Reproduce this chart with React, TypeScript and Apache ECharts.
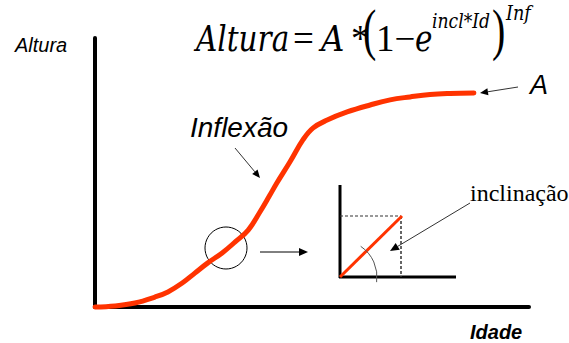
import { useEffect, useRef } from "react";
import * as echarts from "echarts";

// Curve (arbitrary units, 0..100 on both axes)
const idade = [0, 4.6, 9.2, 13.8, 16.8, 20.1, 23.0, 26.0, 29.3, 32.3, 35.3, 38.0, 40.3, 41.9, 44.9, 47.9, 50.2, 53.5, 58.1, 63.4, 68.0, 72.6, 77.2, 81.8, 87.3];
const altura = [0, 0.4, 1.5, 3.7, 5.6, 8.9, 12.6, 16.4, 20.1, 24.2, 28.6, 35.3, 41.6, 46.1, 53.9, 62.1, 66.5, 69.5, 72.5, 75.1, 77.0, 78.1, 79.0, 79.4, 79.6];

const yTitle = "Altura";
const xTitle = "Idade";
const inflexLabel = "Inflexão";
const asymLabel = "A";
const slopeLabel = "inclinação";

const RED = "#ff3300";
const SERIF = "Liberation Serif";
const SERIF_IT = "DejaVu Serif";
const SANS = "Liberation Sans";

function arrow(x1: number, y1: number, x2: number, y2: number, len = 8, half = 3.5, width = 1, color = "#000") {
  const dx = x2 - x1, dy = y2 - y1, L = Math.hypot(dx, dy);
  const ux = dx / L, uy = dy / L;
  const bx = x2 - ux * len, by = y2 - uy * len;
  const px = -uy * half, py = ux * half;
  return [
    { type: "line", shape: { x1, y1, x2: bx, y2: by }, style: { stroke: color, lineWidth: width } },
    { type: "polygon", shape: { points: [[x2, y2], [bx + px, by + py], [bx - px, by - py]] }, style: { fill: "#000" } },
  ];
}

function txt(text: string, x: number, y: number, size: number, family: string, fstyle = "normal", fweight = "normal", el: any = {}) {
  return {
    type: "text",
    x,
    y,
    ...el,
    style: {
      text,
      font: `${fstyle} ${fweight} ${size}px "${family}"`,
      fill: "#000",
      align: "left",
      verticalAlign: "middle",
    },
  };
}

// italic serif pieces of the formula (condensed DejaVu Serif Italic)
function it(text: string, x: number, y: number, size: number, sx: number) {
  return txt(text, x, y, size, SERIF_IT, "italic", "normal", { scaleX: sx });
}

export default function App() {
  const ref = useRef<HTMLDivElement>(null);
  useEffect(() => {
    if (!ref.current) return;
    const chart = echarts.init(ref.current, null, { renderer: "svg" });
    const I = "italic";
    chart.setOption({
      animation: false,
      backgroundColor: "#fff",
      grid: { left: 95, top: 38, width: 434, height: 269 },
      xAxis: {
        type: "value",
        min: 0,
        max: 100,
        axisLine: { show: true, lineStyle: { color: "#000", width: 4 } },
        axisTick: { show: false },
        axisLabel: { show: false },
        splitLine: { show: false },
      },
      yAxis: {
        type: "value",
        min: 0,
        max: 100,
        axisLine: { show: true, lineStyle: { color: "#000", width: 4 } },
        axisTick: { show: false },
        axisLabel: { show: false },
        splitLine: { show: false },
      },
      series: [
        {
          type: "line",
          data: idade.map((x, i) => [x, altura[i]]),
          smooth: 0.4,
          showSymbol: false,
          clip: false,
          lineStyle: { color: RED, width: 5, cap: "round", join: "round" },
        },
      ],
      graphic: [
        // axis titles
        txt(yTitle, 15, 45, 20, SANS, I),
        txt(xTitle, 470, 332, 20, SANS, I, "bold"),
        // formula
        it("Altura", 196, 38, 36, 0.82),
        txt("=", 293, 38, 37, SERIF),
        it("A", 321, 38, 36, 0.9),
        txt("*", 351, 38, 37, SERIF),
        txt("(", 363, 31, 40, SERIF, "normal", "normal", { scaleY: 1.4 }),
        txt("1\u2212", 376, 38, 37, SERIF),
        it("e", 415, 38, 36, 0.82),
        it("incl*Id", 432, 21, 20, 0.86),
        txt(")", 492, 31, 40, SERIF, "normal", "normal", { scaleY: 1.4 }),
        it("Inf", 506, 13, 20, 0.88),
        // Inflexão
        txt(inflexLabel, 190, 127, 28, SANS, I),
        ...arrow(235, 148, 260, 178, 8, 3.5, 1, "#333"),
        // A asymptote
        txt(asymLabel, 530, 85, 27, SANS, I),
        ...arrow(518, 87, 480, 93, 8, 3.5, 1, "#333"),
        // circle at inflection
        { type: "circle", shape: { cx: 226, cy: 248, r: 21 }, style: { fill: "none", stroke: "#000", lineWidth: 1 } },
        ...arrow(260, 252, 308, 252, 9, 4, 1, "#000"),
        // inset
        { type: "line", shape: { x1: 340, y1: 185, x2: 340, y2: 278 }, style: { stroke: "#000", lineWidth: 3 } },
        { type: "line", shape: { x1: 339, y1: 277, x2: 456, y2: 277 }, style: { stroke: "#000", lineWidth: 3 } },
        { type: "line", shape: { x1: 340, y1: 216, x2: 401, y2: 216 }, style: { stroke: "#333", lineWidth: 1.2, lineDash: [3, 2] } },
        { type: "line", shape: { x1: 401, y1: 216, x2: 401, y2: 277 }, style: { stroke: "#333", lineWidth: 1.5, lineDash: [3, 2] } },
        { type: "line", shape: { x1: 340, y1: 277, x2: 402, y2: 216 }, style: { stroke: RED, lineWidth: 3 } },
        {
          type: "arc",
          shape: { cx: 340, cy: 277, r: 37, startAngle: (-56 * Math.PI) / 180, endAngle: (8 * Math.PI) / 180, clockwise: true },
          style: { stroke: "#555", lineWidth: 1, fill: "none" },
        },
        txt(slopeLabel, 470, 193, 24, SERIF),
        ...arrow(470, 203, 390, 251, 9, 4, 1, "#333"),
      ],
    });
    return () => chart.dispose();
  }, []);
  return <div ref={ref} style={{ position: "absolute", left: 0, top: 0, width: 569, height: 343 }} />;
}
